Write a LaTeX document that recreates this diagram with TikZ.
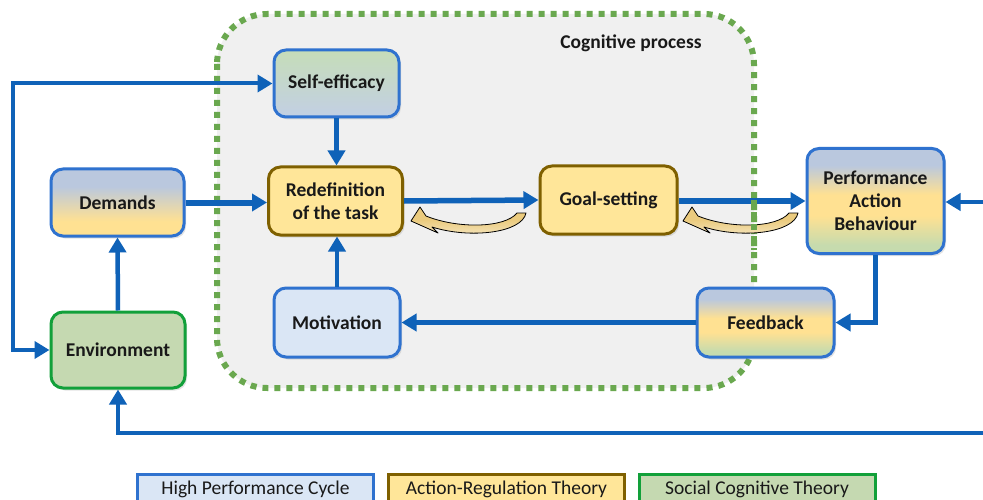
\documentclass[tikz,border=0pt]{standalone}
\usepackage{fontspec}
\setmainfont{Carlito}
\usetikzlibrary{arrows.meta,shadows}
\definecolor{lnblue}{HTML}{0F62B8}
\definecolor{bxblue}{HTML}{2F72CF}
\definecolor{ltblue}{HTML}{DAE6F5}
\definecolor{yel}{HTML}{FFE699}
\definecolor{brn}{HTML}{7F6000}
\definecolor{grnfill}{HTML}{C5D9B1}
\definecolor{grnbd}{HTML}{12A03A}
\definecolor{dotgrn}{HTML}{6AA84F}
\definecolor{cogbg}{HTML}{F0F0F0}
\definecolor{gtop}{HTML}{C6DDB8}
\definecolor{btop}{HTML}{BAC8DE}
\definecolor{ymid}{HTML}{FFE192}
\definecolor{gbot}{HTML}{C6DBAE}
\definecolor{bbot}{HTML}{C2CFE4}
\definecolor{crv}{HTML}{EBCB7E}
\pgfdeclareverticalshading{pabshade}{100bp}{color(0bp)=(gbot); color(29bp)=(gbot); color(43bp)=(ymid); color(53bp)=(ymid); color(67bp)=(btop); color(100bp)=(btop)}
\pgfdeclareverticalshading{demshade}{100bp}{color(0bp)=(ymid); color(36bp)=(ymid); color(62bp)=(btop); color(100bp)=(btop)}
\pgfdeclareverticalshading{crvshade}{100bp}{color(0bp)=(white); color(30bp)=(white!50!crv); color(55bp)=(crv); color(100bp)=(crv)}
\begin{document}
\begin{tikzpicture}[x=1pt,y=-1pt,
  box/.style={rounded corners=12pt, line width=3pt, inner sep=0pt, align=center,
    font=\fontsize{19.5}{23}\selectfont\bfseries, text=black!90,
    drop shadow={shadow xshift=2pt, shadow yshift=-2.5pt, opacity=0.22}},
  bluebox/.style={box, draw=bxblue},
  yelbox/.style={box, draw=brn, fill=yel},
  legbox/.style={line width=3pt, inner sep=0pt, minimum width=236pt, minimum height=30pt,
    font=\fontsize{19.5}{23}\selectfont, text=black!90},
  link/.style={draw=lnblue, line width=4.5pt},
  tip/.style={-{Triangle[length=15pt,width=17pt]}},
  curvarr/.style={shading=crvshade, draw=black, line width=0.8pt, line join=round}
]
\clip (0,0) rectangle (983,500);
\fill[white] (0,0) rectangle (983,500);

% cognitive process region
\draw[fill=cogbg, draw=dotgrn, line width=6pt, dash pattern=on 6pt off 6pt,
      rounded corners=50pt] (217,14) rectangle (754,388);
\node[font=\fontsize{19.5}{23}\selectfont\bfseries, text=black!90] (cog) at (631,43) {Cognitive process};

% nodes
\node[bluebox, top color=gtop, bottom color=bbot, minimum width=125pt, minimum height=67pt] (self) at (336.5,83.5) {Self-efficacy};
\node[yelbox, minimum width=134pt, minimum height=68pt] (redef) at (335.5,201) {Redefinition\\of the task};
\node[yelbox, minimum width=137pt, minimum height=68pt] (goal) at (608.5,200) {Goal-setting};
\node[bluebox, shading=pabshade, minimum width=137pt, minimum height=105pt] (perf) at (875.5,201) {Performance\\Action\\Behaviour};
\node[bluebox, shading=demshade, minimum width=133pt, minimum height=67pt] (demands) at (117.5,202.5) {Demands};
\node[box, draw=grnbd, fill=grnfill, minimum width=134pt, minimum height=76pt] (env) at (118,350) {Environment};
\node[bluebox, fill=ltblue, minimum width=126pt, minimum height=69pt] (motiv) at (337,322.5) {Motivation};

% connectors
\draw[link, line width=4pt, {Triangle[length=15pt,width=17pt]}-{Triangle[length=15pt,width=17pt]}] (env.west) -- ++(-37,0) |- (self.west);
\draw[link, tip] (env.north) -- (demands.south);
\draw[link, line width=6pt, tip] (demands.east) -- (redef.west |- demands.east);
\draw[link, tip] (self.south) -- (self.south |- redef.north);
\draw[link, tip] (motiv.north) -- (motiv.north |- redef.south);
\draw[link, line width=5.5pt, tip] (redef.east) -- (goal.west);
\draw[link, line width=5.5pt, tip] (goal.east |- perf.west) -- (perf.west);
\coordinate (rin) at (990,202);
\coordinate (rbot) at (990,433);
\draw[link, tip] (rin) -- (perf.east |- rin);
\draw[link, tip] (rbot) -| (env.south);

% feedback box drawn over the dotted border
\node[bluebox, shading=pabshade, minimum width=137pt, minimum height=69pt] (feed) at (765.5,322.5) {Feedback};
\draw[link, tip] (perf.south) |- (feed.east);
\draw[link, tip] (feed.west) -- (motiv.east);

% curved feedback arrows
\path[curvarr] (411,221) -- (420,207) -- (426,216) .. controls (458,229) and (505,228) .. (517,213)
  -- (526,213) .. controls (522,233) and (470,239) .. (432,227) -- (438,233) -- cycle;
\begin{scope}[shift={(272,0)}]
\path[curvarr] (411,221) -- (420,207) -- (426,216) .. controls (458,229) and (505,228) .. (517,213)
  -- (526,213) .. controls (522,233) and (470,239) .. (432,227) -- (438,233) -- cycle;
\end{scope}
\draw[draw=dotgrn, line width=6pt, dash pattern=on 6pt off 6pt] (754,200) -- (754,250);

% legend
\node[legbox, draw=bxblue, fill=ltblue] (hpc) at (255.5,489) {High Performance Cycle};
\node[legbox, draw=brn, fill=yel] (art) at (506.5,489) {Action-Regulation Theory};
\node[legbox, draw=grnbd, fill=grnfill] (sct) at (757,489) {Social Cognitive Theory};
\end{tikzpicture}
\end{document}
